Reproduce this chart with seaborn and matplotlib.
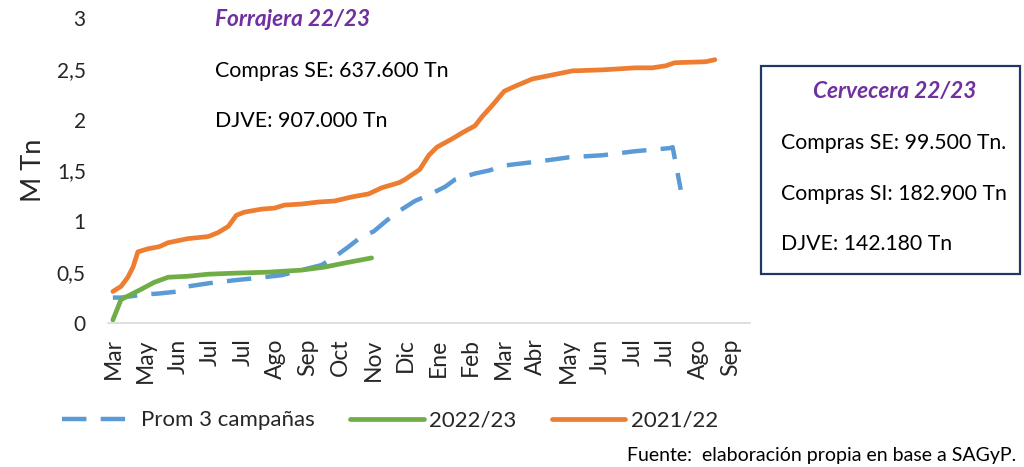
import matplotlib.pyplot as plt
import seaborn as sns
from matplotlib.patches import Rectangle

sns.set_theme(style="white")
plt.rcParams['font.family'] = ['Lato', 'DejaVu Sans']

# Tick labels (category axis)
month_labels = ['Mar', 'May', 'Jun', 'Jul', 'Jul', 'Ago', 'Sep', 'Oct', 'Nov', 'Dic',
                'Ene', 'Feb', 'Mar', 'Abr', 'May', 'Jun', 'Jul', 'Jul', 'Ago', 'Sep']

# Prom 3 campañas (position on the tick axis, million tonnes)
prom_x = [0.0, 0.25, 0.96, 1.42, 2.01, 2.31, 2.93, 3.73, 4.35, 5.19, 5.80, 6.42, 6.82,
          7.25, 7.65, 8.02, 8.43, 8.80, 9.29, 9.72, 10.22, 10.52, 11.14, 11.57, 12.07,
          13.12, 14.04, 15.06, 16.08, 17.13, 17.22, 17.47]
prom_y = [0.25, 0.25, 0.28, 0.29, 0.31, 0.36, 0.39, 0.42, 0.44, 0.47, 0.52, 0.57, 0.65,
          0.75, 0.85, 0.90, 1.01, 1.10, 1.20, 1.26, 1.34, 1.41, 1.47, 1.50, 1.55,
          1.59, 1.63, 1.65, 1.69, 1.72, 1.73, 1.31]

# 2022/23
c2223_x = [0.0, 0.25, 0.86, 1.27, 1.70, 2.31, 2.93, 3.73, 4.78, 5.80, 6.51, 7.13, 7.96]
c2223_y = [0.03, 0.23, 0.33, 0.40, 0.45, 0.46, 0.48, 0.49, 0.50, 0.52, 0.55, 0.59, 0.64]

# 2021/22
c2122_x = [0.0, 0.25, 0.46, 0.62, 0.77, 1.08, 1.42, 1.70, 2.31, 2.93, 3.24, 3.55, 3.80,
           4.04, 4.57, 4.97, 5.28, 5.80, 6.33, 6.82, 7.35, 7.87, 8.27, 8.80, 8.98, 9.44,
           9.72, 9.97, 10.43, 10.74, 11.14, 11.36, 11.67, 12.04, 12.38, 12.90, 13.52,
           14.14, 15.06, 16.08, 16.60, 17.01, 17.28, 18.24, 18.52]
c2122_y = [0.31, 0.36, 0.45, 0.55, 0.70, 0.73, 0.75, 0.79, 0.83, 0.85, 0.89, 0.95, 1.06,
           1.09, 1.12, 1.13, 1.16, 1.17, 1.19, 1.20, 1.24, 1.27, 1.33, 1.38, 1.41, 1.51,
           1.65, 1.73, 1.81, 1.87, 1.94, 2.03, 2.14, 2.28, 2.33, 2.40, 2.44,
           2.48, 2.49, 2.51, 2.51, 2.53, 2.56, 2.57, 2.59]

y_ticks = [0, 0.5, 1, 1.5, 2, 2.5, 3]
y_tick_labels = ['0', '0,5', '1', '1,5', '2', '2,5', '3']

BLUE, GREEN, ORANGE = '#5B9BD5', '#70AD47', '#ED7D31'
PURPLE = '#7030A0'

fig = plt.figure(figsize=(10.24, 4.67), dpi=100)
ax = fig.add_axes([108 / 1024, 144 / 467, 642 / 1024, 305 / 467])

sns.lineplot(x=prom_x, y=prom_y, ax=ax, color=BLUE, lw=3.2, estimator=None,
             linestyle=(0, (5.5, 3.2)), label='Prom 3 campañas')
sns.lineplot(x=c2223_x, y=c2223_y, ax=ax, color=GREEN, lw=3.4, estimator=None,
             label='2022/23')
sns.lineplot(x=c2122_x, y=c2122_y, ax=ax, color=ORANGE, lw=3.4, estimator=None,
             label='2021/22')

ax.set_xlim(-0.15, 19.6)
ax.set_ylim(0, 3)
ax.set_xticks(range(len(month_labels)))
ax.set_xticklabels(month_labels, rotation=90, fontsize=16.5)
ax.set_yticks(y_ticks)
ax.set_yticklabels(y_tick_labels, fontsize=15)
ax.tick_params(axis='both', length=0)
ax.tick_params(axis='y', pad=16)
ax.tick_params(axis='x', pad=11)
ax.set_ylabel('M Tn', fontsize=19.5, labelpad=8)

for side in ['top', 'right', 'left']:
    ax.spines[side].set_visible(False)
ax.spines['bottom'].set_color('#D9D9D9')
ax.spines['bottom'].set_linewidth(1.2)

ax.legend(loc='center', bbox_to_anchor=(0.381, 0.10), bbox_transform=fig.transFigure,
          ncol=3, frameon=False, fontsize=16, handlelength=3.3, columnspacing=1.6,
          handletextpad=0.25)

# Forrajera annotation
fig.text(215 / 1024, 1 - 19 / 467, 'Forrajera 22/23', color=PURPLE, fontsize=16.3,
         fontweight='bold', fontstyle='italic', va='center', ha='left')
fig.text(215 / 1024, 1 - 71 / 467, 'Compras SE: 637.600 Tn', fontsize=15.4,
         va='center', ha='left', color='black')
fig.text(215 / 1024, 1 - 121 / 467, 'DJVE: 907.000 Tn', fontsize=15.4,
         va='center', ha='left', color='black')

# Cervecera box
fig.patches.append(Rectangle((761 / 1024, 1 - 274 / 467), 259 / 1024, 208 / 467,
                             transform=fig.transFigure, fill=False,
                             edgecolor='#1F3864', linewidth=1.6))
fig.text(895 / 1024, 1 - 92 / 467, 'Cervecera 22/23', color=PURPLE, fontsize=16.3,
         fontweight='bold', fontstyle='italic', va='center', ha='center')
fig.text(781 / 1024, 1 - 143 / 467, 'Compras SE: 99.500 Tn.', fontsize=15.3,
         va='center', ha='left', color='black')
fig.text(781 / 1024, 1 - 194 / 467, 'Compras SI: 182.900 Tn', fontsize=15.3,
         va='center', ha='left', color='black')
fig.text(781 / 1024, 1 - 244 / 467, 'DJVE: 142.180 Tn', fontsize=15.3,
         va='center', ha='left', color='black')

fig.text(627 / 1024, 1 - 455 / 467, 'Fuente:  elaboración propia en base a SAGyP.',
         fontsize=14, va='center', ha='left', color='black')

plt.savefig('out.png', dpi=100)
